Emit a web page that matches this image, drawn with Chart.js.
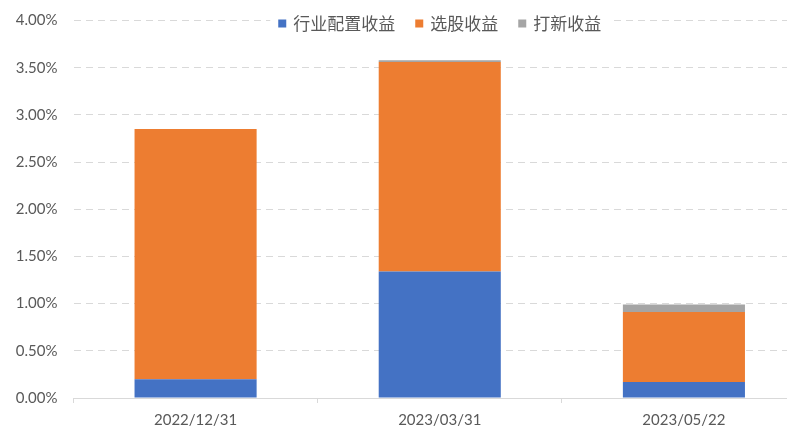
<!DOCTYPE html>
<html><head><meta charset="utf-8">
<script src="https://cdn.jsdelivr.net/npm/chart.js@4/dist/chart.umd.min.js"></script>
<style>html,body{margin:0;padding:0;background:#fff;overflow:hidden;width:792px;height:444px;}canvas{display:block;}</style>
</head><body>
<canvas id="c" width="806" height="444"></canvas>
<script>
const categories = ['2022/12/31', '2023/03/31', '2023/05/22'];
const industryReturn = [0.20, 1.34, 0.17];   // 行业配置收益 (%)
const stockReturn = [2.65, 2.22, 0.74];      // 选股收益 (%)
const ipoReturn = [0.00, 0.02, 0.08];        // 打新收益 (%)
const seriesNames = ['行业配置收益', '选股收益', '打新收益'];
const yTicks = [0, 0.5, 1, 1.5, 2, 2.5, 3, 3.5, 4];

const colors = ['#4472C4', '#ED7D31', '#A5A5A5'];
const gridColor = '#D9D9D9';
const textColor = '#595959';
const latin = 'Lato, "Liberation Sans", sans-serif';
const cjk = '"Noto Sans CJK SC", sans-serif';

const legendPlugin = {
  id: 'customLegend',
  afterDatasetsDraw(chart) {
    const ctx = chart.ctx;
    const ca = chart.chartArea;
    ctx.save();
    ctx.font = '17px ' + cjk;
    const box = 8, gap = 7, sep = 20;
    const items = chart.data.datasets.map(d => ({label: d.label, color: d.backgroundColor, w: ctx.measureText(d.label).width}));
    let total = 0;
    items.forEach((it, i) => { total += box + gap + it.w + (i < items.length - 1 ? sep : 0); });
    const cx = (ca.left + ca.right) / 2;
    let x = cx - total / 2;
    const cy = 22.5;
    ctx.fillStyle = '#fff';
    ctx.fillRect(x - 8, cy - 11, total + 16, 22);
    ctx.textBaseline = 'middle';
    items.forEach(it => {
      ctx.fillStyle = it.color;
      ctx.fillRect(x, cy - box / 2 + 1, box, box);
      x += box + gap;
      ctx.fillStyle = textColor;
      ctx.fillText(it.label, x, cy + 1);
      x += it.w + sep;
    });
    ctx.restore();
  },
  afterDraw(chart) {
    const ctx = chart.ctx;
    ctx.save();
    ctx.fillStyle = '#fff';
    ctx.fillRect(787, 0, 30, chart.height);
    ctx.restore();
  }
};

new Chart(document.getElementById('c'), {
  type: 'bar',
  data: {
    labels: categories,
    datasets: [
      {label: seriesNames[0], data: industryReturn, backgroundColor: colors[0]},
      {label: seriesNames[1], data: stockReturn, backgroundColor: colors[1]},
      {label: seriesNames[2], data: ipoReturn, backgroundColor: colors[2]}
    ]
  },
  options: {
    responsive: false,
    animation: false,
    devicePixelRatio: 1,
    layout: {padding: {top: 20.5, bottom: 0, left: 0, right: 0}},
    plugins: {legend: {display: false}, tooltip: {enabled: false}},
    datasets: {bar: {categoryPercentage: 0.5, barPercentage: 1, borderWidth: 0}},
    scales: {
      x: {
        stacked: true,
        offset: true,
        afterFit(s) { s.height = 46; },
        grid: {display: true, offset: true, drawOnChartArea: false, drawTicks: true, tickLength: 5, color: gridColor, tickColor: gridColor},
        border: {display: true, color: gridColor, width: 1},
        ticks: {color: textColor, font: {family: latin, size: 15}, padding: 8, maxRotation: 0}
      },
      y: {
        stacked: true,
        min: 0, max: 4,
        afterFit(s) { s.width = 73.5; s.paddingTop = 0; s.paddingBottom = 0; },
        afterBuildTicks(s) { s.ticks = yTicks.map(v => ({value: v})); },
        grid: {color: gridColor, lineWidth: 1, drawTicks: false},
        border: {display: false, dash: [7, 5]},
        ticks: {
          color: textColor, font: {family: latin, size: 15}, padding: 16,
          callback: v => v.toFixed(2) + '%'
        }
      }
    }
  },
  plugins: [legendPlugin]
});
</script>
</body></html>
